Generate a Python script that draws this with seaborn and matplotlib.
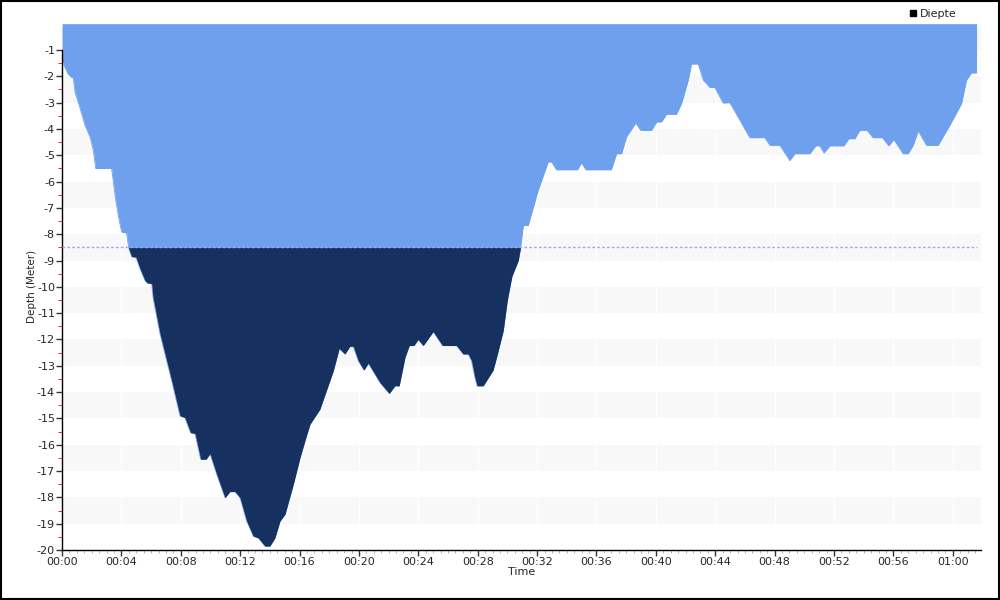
import numpy as np
import pandas as pd
import matplotlib
matplotlib.use("Agg")
import matplotlib.pyplot as plt
from matplotlib.lines import Line2D
from matplotlib.patches import Rectangle
from matplotlib.ticker import MultipleLocator, FixedLocator, FuncFormatter
import seaborn as sns

# --- dive profile (minutes, metres) ---
time_min = [0.0, 0.15, 0.4, 0.65, 0.75, 0.88, 1.21, 1.55, 1.89, 2.11, 2.27, 3.34,
            3.59, 3.81, 4.02, 4.35, 4.5, 4.69, 4.98, 5.25, 5.59, 5.75, 6.04, 6.13,
            6.26, 6.6, 7.05, 7.39, 7.95, 8.28, 8.66, 8.96, 9.34, 9.7, 9.97, 10.42,
            10.98, 11.31, 11.65, 11.99, 12.44, 12.88, 13.22, 13.67, 14.0, 14.34, 14.68,
            15.02, 15.58, 16.03, 16.36, 16.7, 17.37, 18.27, 18.67, 19.05, 19.39, 19.62,
            19.95, 20.33, 20.63, 21.41, 22.04, 22.42, 22.71, 23.1, 23.39, 23.7, 23.99,
            24.33, 25.0, 25.63, 26.57, 27.02, 27.36, 27.58, 27.81, 27.96, 28.37, 29.04,
            29.38, 29.72, 29.99, 30.3, 30.73, 30.89, 31.07, 31.4, 32.07, 32.75, 32.97,
            33.31, 34.72, 34.99, 35.29, 37.0, 37.35, 37.69, 38.02, 38.65, 38.97, 39.71,
            40.05, 40.38, 40.72, 41.39, 41.73, 42.18, 42.4, 42.85, 43.19, 43.64, 43.97,
            44.53, 44.98, 46.33, 47.34, 47.68, 48.35, 49.02, 49.36, 50.37, 50.77, 51.04,
            51.33, 51.72, 52.66, 53.0, 53.4, 53.74, 54.23, 54.63, 55.26, 55.69, 56.03,
            56.66, 56.99, 57.33, 57.67, 58.23, 59.01, 59.8, 60.59, 60.92, 61.26, 61.6]
depth_m = [-1.4, -1.6, -1.9, -2.04, -2.04, -2.6, -3.2, -3.86, -4.3, -4.81, -5.5, -5.5,
           -6.59, -7.35, -7.92, -7.95, -8.54, -8.85, -8.87, -9.3, -9.76, -9.85, -9.88, -10.4,
           -10.78, -11.78, -12.8, -13.57, -14.9, -14.97, -15.54, -15.57, -16.55, -16.55, -16.34, -17.12,
           -18.01, -17.78, -17.78, -18.01, -18.9, -19.47, -19.54, -19.85, -19.85, -19.54, -18.9,
           -18.64, -17.5, -16.49, -15.85, -15.22, -14.65, -13.19, -12.34, -12.55, -12.26, -12.26,
           -12.8, -13.16, -12.9, -13.63, -14.05, -13.76, -13.76, -12.68, -12.23, -12.23, -12.0,
           -12.23, -11.7, -12.23, -12.23, -12.55, -12.55, -12.8, -13.44, -13.76, -13.76, -13.16,
           -12.43, -11.66, -10.52, -9.6, -9.0, -8.49, -7.67, -7.67, -6.33, -5.25, -5.25,
           -5.55, -5.55, -5.29, -5.55, -5.55, -4.94, -4.94, -4.3, -3.77, -4.05, -4.05,
           -3.73, -3.73, -3.44, -3.44, -3.03, -2.14, -1.53, -1.53, -2.14, -2.42, -2.42,
           -3.01, -3.0, -4.33, -4.33, -4.62, -4.62, -5.2, -4.94, -4.94, -4.64, -4.64,
           -4.91, -4.64, -4.64, -4.37, -4.37, -4.05, -4.05, -4.33, -4.33, -4.64, -4.4,
           -4.94, -4.94, -4.62, -4.07, -4.62, -4.62, -3.86, -3.03, -2.14, -1.87, -1.87]
threshold = -8.5
y_major = list(range(-20, 0))
y_minor = [v + 0.5 for v in range(-20, -1)]

df = pd.DataFrame({"time": time_min, "depth": depth_m})

sns.set_style("white")
plt.rcParams['font.family'] = ['DejaVu Sans']
plt.rcParams['axes.unicode_minus'] = False

LIGHT = "#6fa0ed"
NAVY = "#16315f"

fig = plt.figure(figsize=(10, 6), dpi=100)
ax = fig.add_axes([0.062, 0.0833, 0.919, 0.8772])

# alternating bands
for k in range(10):
    ax.axhspan(-(2 * k + 1), -2 * k, color="#f8f8f8", lw=0, zorder=0)
ax.grid(axis="x", color="white", lw=0.8, zorder=0.5)

t = df["time"].values
d = df["depth"].values
ax.fill_between(t, 0, d, color=LIGHT, lw=0, zorder=2)
ax.fill_between(t, threshold, d, where=d <= threshold, interpolate=True,
                color=NAVY, lw=0, zorder=3)
sns.lineplot(data=df, x="time", y="depth", ax=ax, color=LIGHT, lw=0.6,
             zorder=1.9, legend=False)

ax.plot([0, t[-1]], [threshold, threshold], color="#a5a5f5", ls=(0, (2, 1.5)),
        lw=1, zorder=4)

ax.set_xlim(0, 61.9)
ax.set_ylim(-20, 0)

ax.xaxis.set_major_locator(MultipleLocator(4))
ax.xaxis.set_minor_locator(MultipleLocator(0.5))
ax.xaxis.set_major_formatter(FuncFormatter(lambda v, p: f"{int(v // 60):02d}:{int(round(v % 60)):02d}"))
ax.yaxis.set_major_locator(FixedLocator(y_major))
ax.yaxis.set_minor_locator(FixedLocator(y_minor))
ax.yaxis.set_major_formatter(FuncFormatter(lambda v, p: f"{int(round(v))}"))

ax.tick_params(axis="both", which="major", direction="out", length=4, width=1,
               color="#333333", labelsize=8, pad=1, left=True, bottom=True)
ax.tick_params(axis="y", which="minor", direction="out", length=3, color="red", left=True)
ax.tick_params(axis="x", which="minor", direction="out", length=2, color="#aaaaaa", bottom=True)

for s in ["top", "right"]:
    ax.spines[s].set_visible(False)
for s in ["left", "bottom"]:
    ax.spines[s].set_color("black")
    ax.spines[s].set_linewidth(1)
ax.spines["left"].set_bounds(-20, -1)

ax.set_xlabel("Time", fontsize=8, labelpad=0)
ax.set_ylabel("Depth (Meter)", fontsize=7.5)
ax.yaxis.set_label_coords(-0.027, 0.5)

handle = Line2D([], [], marker="s", color="black", ls="", markersize=5)
ax.legend(handles=[handle], labels=["Diepte"], loc="center",
          bbox_to_anchor=(0.932, 1 - 14 / 600), bbox_transform=fig.transFigure,
          frameon=False, handletextpad=0.1, fontsize=8, handlelength=1)

fig.patches.append(Rectangle((0.001, 0.0015), 0.998, 0.997, transform=fig.transFigure,
                             fill=False, edgecolor="black", lw=1.5))

fig.savefig("out.png", dpi=100)
